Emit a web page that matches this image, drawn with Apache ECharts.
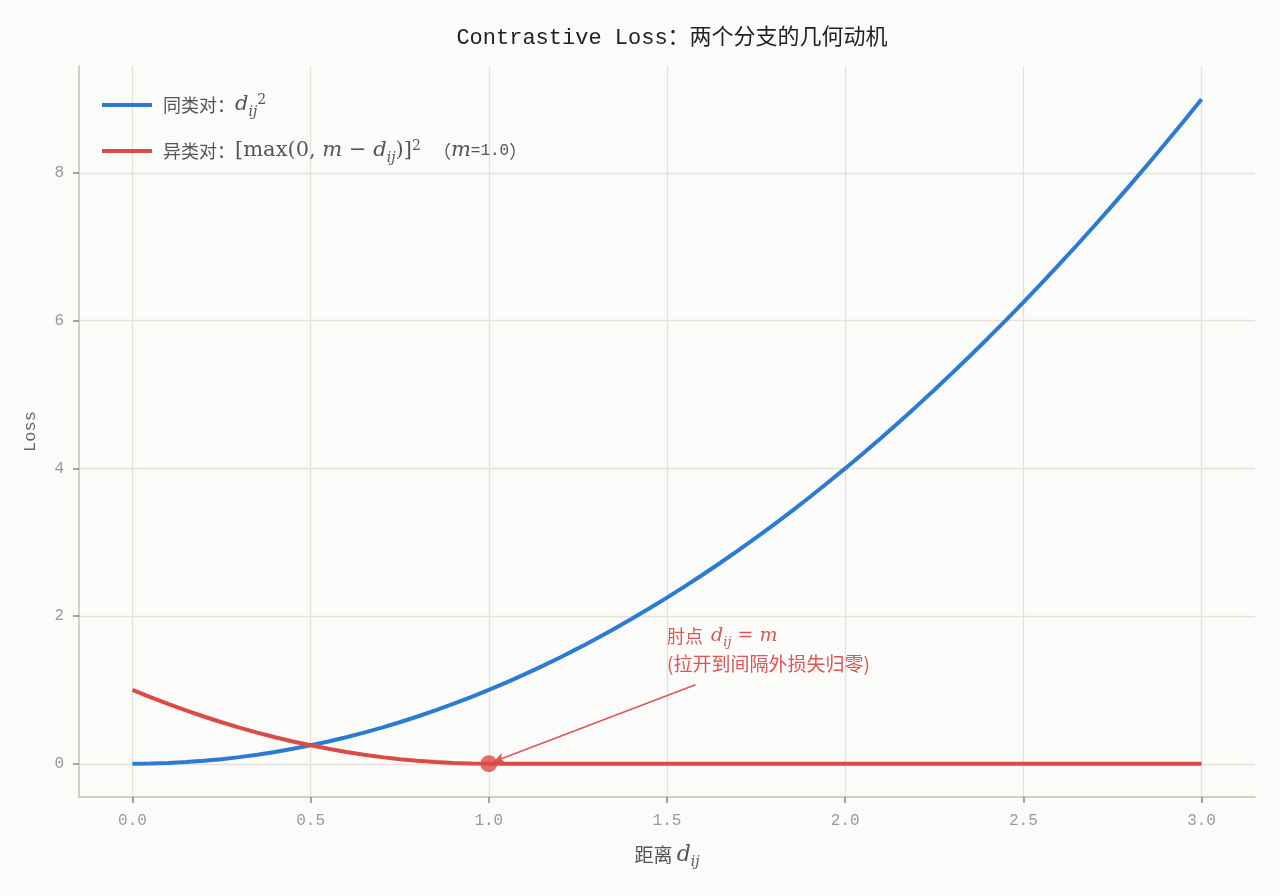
<!DOCTYPE html>
<html>
<head>
<meta charset="utf-8">
<script src="https://cdn.jsdelivr.net/npm/echarts@6/dist/echarts.min.js"></script>
<style>
  html, body { margin: 0; padding: 0; background: #fbfbf9; }
  #chart { width: 1280px; height: 896px; }
</style>
</head>
<body>
<div id="chart"></div>
<script>
// 距离 d_ij
var distances = [0.00, 0.05, 0.10, 0.15, 0.20, 0.25, 0.30, 0.35, 0.40, 0.45,
                 0.50, 0.55, 0.60, 0.65, 0.70, 0.75, 0.80, 0.85, 0.90, 0.95,
                 1.00, 1.05, 1.10, 1.15, 1.20, 1.25, 1.30, 1.35, 1.40, 1.45,
                 1.50, 1.55, 1.60, 1.65, 1.70, 1.75, 1.80, 1.85, 1.90, 1.95,
                 2.00, 2.05, 2.10, 2.15, 2.20, 2.25, 2.30, 2.35, 2.40, 2.45,
                 2.50, 2.55, 2.60, 2.65, 2.70, 2.75, 2.80, 2.85, 2.90, 2.95, 3.00];
// 同类对 loss
var posLoss = [0.0000, 0.0025, 0.0100, 0.0225, 0.0400, 0.0625, 0.0900, 0.1225, 0.1600, 0.2025,
               0.2500, 0.3025, 0.3600, 0.4225, 0.4900, 0.5625, 0.6400, 0.7225, 0.8100, 0.9025,
               1.0000, 1.1025, 1.2100, 1.3225, 1.4400, 1.5625, 1.6900, 1.8225, 1.9600, 2.1025,
               2.2500, 2.4025, 2.5600, 2.7225, 2.8900, 3.0625, 3.2400, 3.4225, 3.6100, 3.8025,
               4.0000, 4.2025, 4.4100, 4.6225, 4.8400, 5.0625, 5.2900, 5.5225, 5.7600, 6.0025,
               6.2500, 6.5025, 6.7600, 7.0225, 7.2900, 7.5625, 7.8400, 8.1225, 8.4100, 8.7025, 9.0000];
// 异类对 loss (m = 1.0)
var negLoss = [1.0000, 0.9025, 0.8100, 0.7225, 0.6400, 0.5625, 0.4900, 0.4225, 0.3600, 0.3025,
               0.2500, 0.2025, 0.1600, 0.1225, 0.0900, 0.0625, 0.0400, 0.0225, 0.0100, 0.0025,
               0, 0, 0, 0, 0, 0, 0, 0, 0, 0,
               0, 0, 0, 0, 0, 0, 0, 0, 0, 0,
               0, 0, 0, 0, 0, 0, 0, 0, 0, 0,
               0, 0, 0, 0, 0, 0, 0, 0, 0, 0, 0];
var xTicks = [0, 0.5, 1.0, 1.5, 2.0, 2.5, 3.0];
var yTicks = [0, 2, 4, 6, 8];
var elbow = [1.0, 0.0];
var noteAt = [1.5, 1.55];
var arrowFrom = [1.58, 1.07];
var arrowTo = [1.015, 0.03];

var BLUE = '#2b7bd3';
var RED = '#dc4a45';
var NOTE = '#dd5555';
var mono = '"Liberation Mono", "Noto Sans CJK SC", monospace';
var serif = '"DejaVu Serif", "Noto Sans CJK SC", serif';
var cjk = '"Noto Sans CJK SC", sans-serif';

function pairs(xs, ys) {
  var out = [];
  for (var i = 0; i < xs.length; i++) out.push([xs[i], ys[i]]);
  return out;
}

var mathRich = {
  t: { fontFamily: cjk, fontSize: 18, color: '#555', lineHeight: 28, verticalAlign: 'middle' },
  m: { fontFamily: serif, fontSize: 21, color: '#555', lineHeight: 28, verticalAlign: 'middle' },
  i: { fontFamily: serif, fontStyle: 'italic', fontSize: 21, color: '#555', lineHeight: 28, verticalAlign: 'middle' },
  sub: { fontFamily: serif, fontStyle: 'italic', fontSize: 14, color: '#555', lineHeight: 28, verticalAlign: 'bottom', padding: [0, 0, 0, 0] },
  sup: { fontFamily: serif, fontSize: 14, color: '#555', lineHeight: 28, verticalAlign: 'top', padding: [2, 0, 0, 0] },
  s: { fontFamily: mono, fontSize: 16, color: '#555', lineHeight: 28, verticalAlign: 'middle' }
};

var chart = echarts.init(document.getElementById('chart'));

var option = {
  backgroundColor: '#fbfbf9',
  animation: false,
  title: {
    text: 'Contrastive Loss：两个分支的几何动机',
    left: 667,
    textAlign: 'center',
    top: 22,
    textStyle: { fontFamily: mono, fontSize: 22, fontWeight: 'normal', color: '#222' }
  },
  grid: { left: 79, right: 25, top: 66, bottom: 99 },
  legend: {
    orient: 'vertical',
    left: 97,
    top: 86,
    itemWidth: 50,
    itemHeight: 4,
    itemGap: 18,
    icon: 'rect',
    data: ['同类对', '异类对'],
    textStyle: { rich: mathRich, padding: [0, 0, 0, 6] },
    formatter: function (name) {
      if (name === '同类对') {
        return '{t|同类对：}{i|d}{sub|ij}{sup|2}';
      }
      return '{t|异类对：}{m|[max(0, }{i|m}{m| − }{i|d}{sub|ij}{m|)]}{sup|2}{t|   （}{i|m}{s|=1.0}{t|）}';
    }
  },
  xAxis: {
    type: 'value',
    min: -0.15,
    max: 3.15,
    name: '{t|距离 }{i|d}{sub|ij}',
    nameLocation: 'middle',
    nameGap: 44,
    nameTextStyle: {
      rich: {
        t: { fontFamily: cjk, fontSize: 19, color: '#555', lineHeight: 28 },
        i: { fontFamily: serif, fontStyle: 'italic', fontSize: 22, color: '#555', lineHeight: 28 },
        sub: { fontFamily: serif, fontStyle: 'italic', fontSize: 14, color: '#555', lineHeight: 28, verticalAlign: 'bottom' }
      }
    },
    axisLine: { show: true, onZero: false, lineStyle: { color: '#c2c2b4', width: 1.5 } },
    axisTick: { show: true, length: 6, customValues: xTicks, lineStyle: { color: '#888', width: 1.5 } },
    axisLabel: {
      customValues: xTicks,
      margin: 16,
      color: '#999',
      fontFamily: mono,
      fontSize: 16,
      formatter: function (v) { return v.toFixed(1); }
    },
    splitLine: { show: true, customValues: xTicks, lineStyle: { color: '#e2e2da', width: 1.3 } }
  },
  yAxis: {
    type: 'value',
    min: -0.45,
    max: 9.45,
    name: 'Loss',
    nameLocation: 'middle',
    nameGap: 40,
    nameTextStyle: { fontFamily: mono, fontSize: 17, color: '#666' },
    axisLine: { show: true, onZero: false, lineStyle: { color: '#c2c2b4', width: 1.5 } },
    axisTick: { show: true, length: 6, customValues: yTicks, lineStyle: { color: '#888', width: 1.5 } },
    axisLabel: {
      customValues: yTicks,
      margin: 15,
      color: '#999',
      fontFamily: mono,
      fontSize: 16
    },
    splitLine: { show: true, customValues: yTicks, lineStyle: { color: '#e2e2da', width: 1.3 } }
  },
  series: [
    {
      name: '同类对',
      type: 'line',
      data: pairs(distances, posLoss),
      showSymbol: false,
      symbol: 'none',
      color: BLUE,
      lineStyle: { color: BLUE, width: 4 },
      z: 3
    },
    {
      name: '异类对',
      type: 'line',
      data: pairs(distances, negLoss),
      showSymbol: false,
      symbol: 'none',
      color: RED,
      lineStyle: { color: RED, width: 4 },
      z: 4,
      markLine: {
        silent: true,
        symbol: ['none', 'arrow'],
        symbolSize: [8, 10],
        lineStyle: { color: NOTE, width: 1.5, type: 'solid' },
        label: { show: false },
        data: [[{ coord: arrowFrom }, { coord: arrowTo }]]
      },
      markPoint: {
        symbol: 'circle',
        symbolSize: 0,
        silent: true,
        data: [{
          coord: noteAt,
          label: {
            show: true,
            position: 'right',
            distance: 0,
            align: 'left',
            formatter: '{c|肘点  }{i|d}{sub|ij}{m| = }{i|m}\n{c2|(拉开到间隔外损失归零)}',
            rich: {
              c: { fontFamily: cjk, fontSize: 18, color: NOTE, lineHeight: 28 },
              i: { fontFamily: serif, fontStyle: 'italic', fontSize: 19, color: NOTE, lineHeight: 28 },
              m: { fontFamily: serif, fontSize: 19, color: NOTE, lineHeight: 28 },
              sub: { fontFamily: serif, fontStyle: 'italic', fontSize: 13, color: NOTE, lineHeight: 28, verticalAlign: 'bottom', padding: [0, 0, 1, 0] },
              c2: { fontFamily: cjk, fontSize: 19, color: NOTE, lineHeight: 26 }
            }
          }
        }]
      }
    },
    {
      name: '肘点',
      type: 'scatter',
      data: [elbow],
      symbol: 'circle',
      symbolSize: 17,
      color: RED,
      itemStyle: { color: RED },
      z: 5
    }
  ]
};

chart.setOption(option);
</script>
</body>
</html>
